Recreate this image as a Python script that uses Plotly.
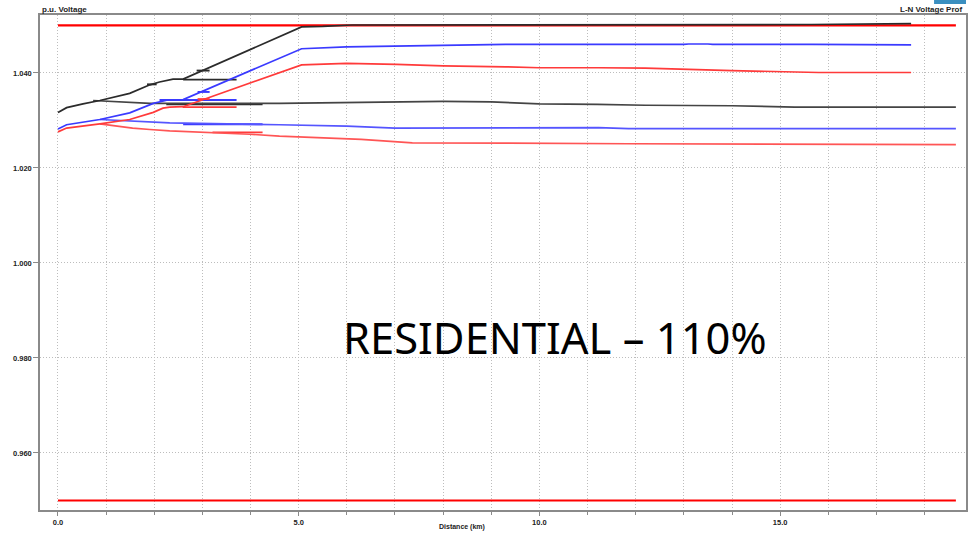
import plotly.graph_objects as go

# ---------------- data ----------------
BLACK_MAIN_X = [0.0, 0.18, 0.52, 0.87, 1.49, 1.91, 2.11, 2.39, 2.60, 2.94, 3.77, 5.06, 5.50, 6.11, 15.65, 17.72]
BLACK_MAIN_Y = [1.0317, 1.0327, 1.0335, 1.0342, 1.0357, 1.0375, 1.0381, 1.0387, 1.0387, 1.0402, 1.0439,
                1.0497, 1.0498, 1.0501, 1.0502, 1.0504]
BLACK_LOWER_X = [0.73, 1.91, 4.60, 8.00, 9.00, 10.00, 11.20, 12.20, 14.00, 15.30, 18.65]
BLACK_LOWER_Y = [1.0342, 1.0336, 1.0336, 1.0340, 1.0339, 1.0335, 1.0334, 1.0332, 1.0331, 1.0328, 1.0328]

BLUE_MAIN_X = [0.0, 0.18, 0.87, 1.49, 1.98, 2.28, 2.60, 5.06, 5.99, 8.00, 9.30, 13.00, 13.10, 13.50, 13.60,
               15.65, 17.72]
BLUE_MAIN_Y = [1.0282, 1.0291, 1.0302, 1.0316, 1.0336, 1.0343, 1.0344, 1.0451, 1.0455, 1.0458, 1.0460,
               1.0460, 1.0461, 1.0461, 1.0460, 1.0460, 1.0459]
BLUE_LOWER_X = [0.87, 1.91, 2.32, 4.60, 6.00, 7.00, 9.00, 11.23, 11.85, 18.65]
BLUE_LOWER_Y = [1.0302, 1.0297, 1.0295, 1.0291, 1.0288, 1.0284, 1.0285, 1.0285, 1.0283, 1.0283]

RED_MAIN_X = [0.0, 0.18, 0.87, 1.49, 1.98, 2.18, 2.32, 2.60, 5.06, 5.99, 7.03, 8.00, 9.30, 10.00, 11.23,
              12.20, 14.00, 15.80, 17.72]
RED_MAIN_Y = [1.0276, 1.0284, 1.0293, 1.0302, 1.0317, 1.0326, 1.0328, 1.0329, 1.0417, 1.0420, 1.0418,
              1.0415, 1.0413, 1.0411, 1.0411, 1.0410, 1.0405, 1.0401, 1.0401]
RED_LOWER_X = [0.87, 1.55, 1.91, 2.32, 3.98, 4.60, 6.30, 7.36, 11.85, 17.93, 18.65]
RED_LOWER_Y = [1.0293, 1.0284, 1.0281, 1.0278, 1.0271, 1.0267, 1.0260, 1.0253, 1.0251, 1.0250, 1.0249]

# short laterals: start km, end km, voltage
BLACK_STUB_X0 = [2.88, 2.60, 1.85, 2.25]
BLACK_STUB_X1 = [3.15, 3.71, 2.05, 4.25]
BLACK_STUB_Y = [1.0405, 1.0386, 1.0376, 1.0334]
BLUE_STUB_X0 = [2.90, 2.11, 2.60]
BLUE_STUB_X1 = [3.15, 3.71, 4.25]
BLUE_STUB_Y = [1.0360, 1.0343, 1.0292]
RED_STUB_X0 = [2.90, 2.59, 3.21]
RED_STUB_X1 = [3.15, 3.71, 4.25]
RED_STUB_Y = [1.0345, 1.0328, 1.0275]

LIMIT_X = [0.0, 18.65]
LIMIT_HIGH = 1.05
LIMIT_LOW = 0.95

X_TICKS = [0.0, 5.0, 10.0, 15.0]
Y_TICKS = [0.96, 0.98, 1.00, 1.02, 1.04]

# ---------------- figure ----------------
BLACK = "#2b2b2b"
BLUE = "#3a3aff"
RED = "#ff3a3a"
LIMIT_RED = "#ff0000"

fig = go.Figure()

def add_line(x, y, color, width=1.7):
    fig.add_trace(go.Scatter(x=x, y=y, mode="lines", line=dict(color=color, width=width),
                             hoverinfo="skip", showlegend=False))

# limits
add_line(LIMIT_X, [LIMIT_HIGH, LIMIT_HIGH], LIMIT_RED, 2.2)
add_line(LIMIT_X, [LIMIT_LOW, LIMIT_LOW], LIMIT_RED, 2.2)

for x0s, x1s, ys, col in [(BLACK_STUB_X0, BLACK_STUB_X1, BLACK_STUB_Y, BLACK),
                          (BLUE_STUB_X0, BLUE_STUB_X1, BLUE_STUB_Y, BLUE),
                          (RED_STUB_X0, RED_STUB_X1, RED_STUB_Y, RED)]:
    for a, b, v in zip(x0s, x1s, ys):
        add_line([a, b], [v, v], col, 1.9)

add_line(BLACK_LOWER_X, BLACK_LOWER_Y, "#444444")
add_line(BLUE_LOWER_X, BLUE_LOWER_Y, "#5555ff")
add_line(RED_LOWER_X, RED_LOWER_Y, "#ff5555")
add_line(RED_MAIN_X, RED_MAIN_Y, RED)
add_line(BLUE_MAIN_X, BLUE_MAIN_Y, BLUE)
add_line(BLACK_MAIN_X, BLACK_MAIN_Y, BLACK)

tickfont = dict(family="Liberation Sans, Arial", size=7.5, color="#222", weight="bold")
GRID = "#bdbdbd"
AXIS = "#8a8a8a"
DOT = "1px,2px"

fig.update_layout(
    width=968, height=535,
    margin=dict(l=40, r=0, t=15, b=25),
    paper_bgcolor="white", plot_bgcolor="white",
    xaxis=dict(range=[-0.373, 18.86], tickvals=X_TICKS, tickformat=".1f",
               showgrid=True, gridcolor=GRID, griddash=DOT, gridwidth=1,
               ticks="outside", ticklen=4, tickcolor=AXIS, tickfont=tickfont,
               showline=True, linecolor=AXIS, linewidth=1.5, mirror=True, zeroline=False,
               minor=dict(dtick=1, tick0=0, showgrid=True, gridcolor=GRID, griddash=DOT,
                          ticks="outside", ticklen=3, tickcolor=AXIS)),
    yaxis=dict(range=[0.948, 1.0522], tickvals=Y_TICKS, tickformat=".3f",
               showgrid=True, gridcolor=GRID, griddash=DOT, gridwidth=1,
               ticks="outside", ticklen=5, tickcolor=AXIS, tickfont=tickfont,
               showline=True, linecolor=AXIS, linewidth=1.5, mirror=True, zeroline=False),
    annotations=[
        dict(text="p.u. Voltage", xref="paper", yref="paper", x=0.0, y=1 + 5 / 495,
             xanchor="left", yanchor="middle", showarrow=False,
             font=dict(family="Liberation Sans, Arial", size=8, color="#222", weight="bold")),
        dict(text="L-N Voltage Prof", xref="paper", yref="paper", x=(966 - 40) / 928, y=1 + 5 / 495,
             xanchor="right", yanchor="middle", showarrow=False,
             font=dict(family="Liberation Sans, Arial", size=8, color="#222", weight="bold")),
        dict(text="Distance (km)", xref="paper", yref="paper", x=(463 - 40) / 928, y=-17 / 495,
             xanchor="center", yanchor="middle", showarrow=False,
             font=dict(family="Liberation Sans, Arial", size=7, color="#222", weight="bold")),
        dict(text="RESIDENTIAL – 110%", x=10.32, y=0.9844, xref="x", yref="y",
             xanchor="center", yanchor="middle", showarrow=False,
             font=dict(family="Noto Sans", size=43.5, color="black")),
    ],
    shapes=[
        dict(type="rect", xref="paper", yref="paper", x0=(936 - 40) / 928, x1=1.0,
             y0=1 + 11 / 495, y1=1 + 16 / 495, fillcolor="#3a8fc0", line=dict(width=0)),
    ],
)

fig.write_html("out.html", config={"displayModeBar": False},
               post_script="document.body.style.margin='0';")
